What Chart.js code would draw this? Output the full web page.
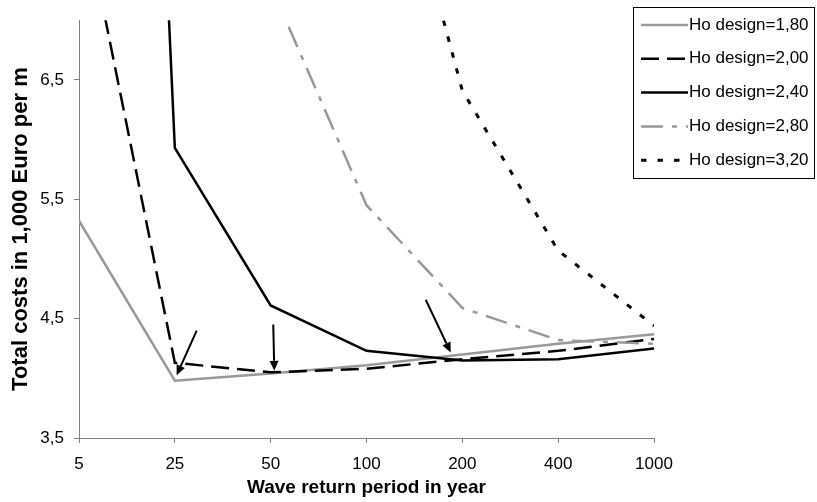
<!DOCTYPE html>
<html><head><meta charset="utf-8">
<script src="https://cdn.jsdelivr.net/npm/chart.js@4.4.1/dist/chart.umd.min.js"></script>
<style>html,body{margin:0;padding:0;background:#fff;}#wrap{position:relative;width:817px;height:502px;}</style>
</head><body><div id="wrap"><canvas id="c" width="817" height="502"></canvas></div>
<script>
// ---- data ----
const periods = ['5', '25', '50', '100', '200', '400', '1000'];
const seriesNames = ['Ho design=1,80', 'Ho design=2,00', 'Ho design=2,40', 'Ho design=2,80', 'Ho design=3,20'];
const hd180 = [5.32, 3.98, 4.04, 4.11, 4.20, 4.29, 4.37];
const hd200 = [8.10, 4.13, 4.05, 4.08, 4.16, 4.23, 4.33];
const hd240 = [23.5, 5.93, 4.61, 4.23, 4.15, 4.16, 4.25];
const hd280 = [null, null, 7.29, 5.45, 4.59, 4.32, 4.29];
const hd320 = [null, null, null, 9.40, 6.41, 5.07, 4.44];
const yTicks = [3.5, 4.5, 5.5, 6.5];
const yTickLabels = ['3,5', '4,5', '5,5', '6,5'];
const xTitle = 'Wave return period in year';
const yTitle = 'Total costs in 1,000 Euro per m';
// arrows: [category index, value]
const arrowStarts = [[1.228, 4.40], [2.027, 4.45], [3.618, 4.658]];
const arrowEnds = [[1.019, 4.025], [2.038, 4.063], [3.879, 4.216]];

// ---- styles ----
const FONT = "'Liberation Sans', Arial, sans-serif";
const styles = [
  {color: '#999999', dash: [], width: 2.5},
  {color: '#000000', dash: [18, 8], width: 2.5},
  {color: '#000000', dash: [], width: 2.5},
  {color: '#999999', dash: [22, 9, 5, 9], width: 2.5},
  {color: '#000000', dash: [5.5, 11], width: 3}
];
const allSeries = [hd180, hd200, hd240, hd280, hd320];

const datasets = allSeries.map((d, i) => ({
  label: seriesNames[i],
  data: d,
  borderColor: styles[i].color,
  backgroundColor: styles[i].color,
  borderDash: styles[i].dash,
  borderWidth: styles[i].width,
  borderCapStyle: 'butt',
  borderJoinStyle: 'miter',
  pointRadius: 0,
  tension: 0,
  fill: false,
  spanGaps: false,
  clip: 0,
  order: 10 - i
}));

const arrowPlugin = {
  id: 'arrows',
  afterDatasetsDraw(chart) {
    const {ctx, scales: {x, y}} = chart;
    ctx.save();
    ctx.strokeStyle = '#000';
    ctx.fillStyle = '#000';
    ctx.lineWidth = 2;
    ctx.setLineDash([]);
    arrowStarts.forEach((s, i) => {
      const e = arrowEnds[i];
      const x0 = x.getPixelForValue(s[0]), y0 = y.getPixelForValue(s[1]);
      const x1 = x.getPixelForValue(e[0]), y1 = y.getPixelForValue(e[1]);
      const ang = Math.atan2(y1 - y0, x1 - x0);
      const hl = 10, hw = 4.5;
      const bx = x1 - hl * Math.cos(ang), by = y1 - hl * Math.sin(ang);
      ctx.beginPath(); ctx.moveTo(x0, y0); ctx.lineTo(bx, by); ctx.stroke();
      ctx.beginPath();
      ctx.moveTo(x1, y1);
      ctx.lineTo(bx + hw * Math.sin(ang), by - hw * Math.cos(ang));
      ctx.lineTo(bx - hw * Math.sin(ang), by + hw * Math.cos(ang));
      ctx.closePath(); ctx.fill();
    });
    ctx.restore();
  }
};

const legendPlugin = {
  id: 'boxLegend',
  afterDraw(chart) {
    const ctx = chart.ctx;
    ctx.save();
    ctx.fillStyle = '#fff';
    ctx.fillRect(633, 7, 181, 171);
    ctx.strokeStyle = '#000';
    ctx.lineWidth = 1;
    ctx.setLineDash([]);
    ctx.strokeRect(633.5, 7.5, 181, 171);
    chart.data.datasets.forEach((ds, i) => {
      const yy = 25 + i * 33.8;
      ctx.beginPath();
      ctx.strokeStyle = ds.borderColor;
      ctx.lineWidth = ds.borderWidth;
      ctx.setLineDash(ds.borderDash);
      ctx.moveTo(641, yy); ctx.lineTo(688, yy); ctx.stroke();
      ctx.setLineDash([]);
      ctx.fillStyle = '#000';
      ctx.font = '17px ' + FONT;
      ctx.textBaseline = 'middle';
      ctx.textAlign = 'left';
      ctx.fillText(ds.label, 689, yy);
    });
    ctx.restore();
  }
};

new Chart(document.getElementById('c'), {
  type: 'line',
  data: {labels: periods, datasets},
  plugins: [arrowPlugin, legendPlugin],
  options: {
    responsive: false,
    animation: false,
    devicePixelRatio: 1,
    layout: {padding: {top: 11, right: 163, bottom: 0, left: 0}},
    plugins: {legend: {display: false}, tooltip: {enabled: false}},
    scales: {
      x: {
        type: 'category',
        offset: false,
        grid: {display: true, drawOnChartArea: false, drawTicks: true, tickLength: 5, color: '#808080', lineWidth: 1},
        border: {display: true, color: '#808080', width: 1},
        ticks: {font: {family: FONT, size: 17}, color: '#000', padding: 11, maxRotation: 0, autoSkip: false},
        title: {display: true, text: xTitle, font: {family: FONT, size: 19, weight: 'bold'}, color: '#000', padding: {top: 0, bottom: 3}},
        afterFit: s => { s.height = 64; }
      },
      y: {
        type: 'linear',
        min: 3.5,
        max: 7,
        afterBuildTicks: s => { s.ticks = yTicks.map(v => ({value: v})); },
        grid: {display: true, drawOnChartArea: false, drawTicks: true, tickLength: 5, color: '#808080', lineWidth: 1},
        border: {display: true, color: '#808080', width: 1},
        ticks: {font: {family: FONT, size: 17}, color: '#000', padding: 10,
          callback: v => yTickLabels[yTicks.indexOf(v)]},
        title: {display: true, text: yTitle, font: {family: FONT, size: 22, weight: 'bold'}, color: '#000', padding: {top: 8, bottom: 0}},
        afterFit: s => { s.width = 79; }
      }
    }
  }
});
</script></body></html>
